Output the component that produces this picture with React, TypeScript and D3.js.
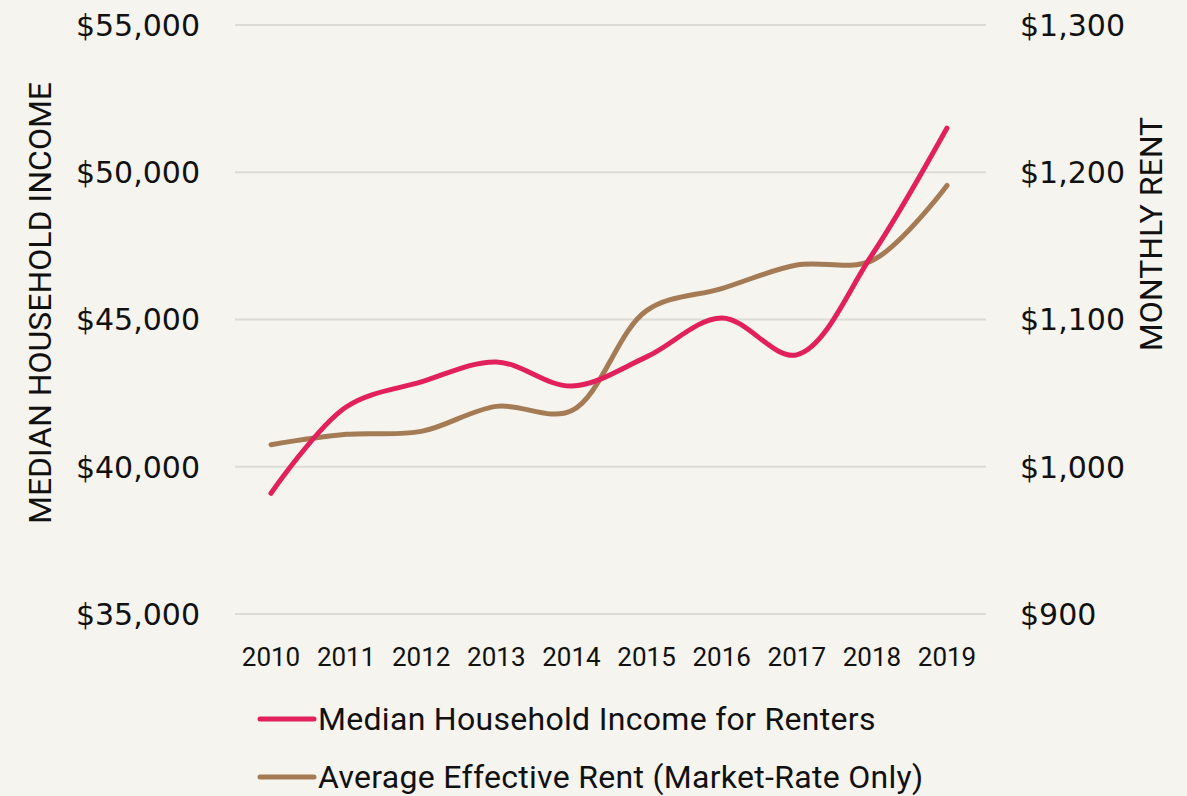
import React, { useEffect, useRef } from 'react';
import * as d3 from 'd3';

const years = ['2010', '2011', '2012', '2013', '2014', '2015', '2016', '2017', '2018', '2019'];
const incomeValues = [39100, 42030, 42880, 43560, 42740, 43730, 45050, 43800, 47190, 51500];
const rentValues = [1015, 1022, 1024, 1041, 1038, 1106, 1121, 1137, 1140, 1191];
const incomeTicks = [35000, 40000, 45000, 50000, 55000];
const rentTicks = [900, 1000, 1100, 1200, 1300];
const seriesNames = ['Median Household Income for Renters', 'Average Effective Rent (Market-Rate Only)'];

const W = 1187;
const H = 796;
const PINK = '#e2215c';
const BROWN = '#a57b55';

const App = () => {
  const svgRef = useRef<SVGSVGElement | null>(null);

  useEffect(() => {
    const svg = d3.select(svgRef.current);
    svg.selectAll('*').remove();

    svg.append('rect').attr('width', W).attr('height', H).attr('fill', '#f5f4ee');

    const x = d3.scalePoint().domain(years).range([271, 947]);
    const yL = d3.scaleLinear().domain([35000, 55000]).range([614, 25]);
    const yR = d3.scaleLinear().domain([900, 1300]).range([614, 25]);

    // gridlines
    svg.append('g')
      .selectAll('line')
      .data(incomeTicks)
      .join('line')
      .attr('x1', 235)
      .attr('x2', 986)
      .attr('y1', d => yL(d))
      .attr('y2', d => yL(d))
      .attr('stroke', '#dcdbd8')
      .attr('stroke-width', 2);

    const fmt = d3.format('$,');

    svg.append('g')
      .selectAll('text')
      .data(incomeTicks)
      .join('text')
      .attr('x', 200)
      .attr('y', d => yL(d))
      .attr('dy', '0.36em')
      .attr('text-anchor', 'end')
      .style('font-family', 'DejaVu Sans')
      .style('font-size', '30px')
      .attr('fill', '#111')
      .text(d => fmt(d));

    svg.append('g')
      .selectAll('text')
      .data(rentTicks)
      .join('text')
      .attr('x', 1020)
      .attr('y', d => yR(d))
      .attr('dy', '0.36em')
      .attr('text-anchor', 'start')
      .style('font-family', 'DejaVu Sans')
      .style('font-size', '30px')
      .attr('fill', '#111')
      .text(d => fmt(d));

    svg.append('g')
      .selectAll('text')
      .data(years)
      .join('text')
      .attr('x', d => x(d)!)
      .attr('y', 666)
      .attr('text-anchor', 'middle')
      .style('font-family', 'Roboto')
      .style('font-size', '26px')
      .attr('fill', '#111')
      .text(d => d);

    svg.append('text')
      .attr('transform', 'translate(51,303) rotate(-90)')
      .attr('text-anchor', 'middle')
      .style('font-family', 'Roboto')
      .style('font-size', '32px')
      .attr('fill', '#111')
      .text('MEDIAN HOUSEHOLD INCOME');

    svg.append('text')
      .attr('transform', 'translate(1162,234) rotate(-90)')
      .attr('text-anchor', 'middle')
      .style('font-family', 'Roboto')
      .style('font-size', '32px')
      .attr('fill', '#111')
      .text('MONTHLY RENT');

    const line = (ys: d3.ScaleLinear<number, number>) =>
      d3.line<number>()
        .x((_, i) => x(years[i])!)
        .y(d => ys(d))
        .curve(d3.curveCatmullRom.alpha(0.5));

    svg.append('path')
      .datum(rentValues)
      .attr('fill', 'none')
      .attr('stroke', BROWN)
      .attr('stroke-width', 5)
      .attr('stroke-linecap', 'round')
      .attr('d', line(yR));

    svg.append('path')
      .datum(incomeValues)
      .attr('fill', 'none')
      .attr('stroke', PINK)
      .attr('stroke-width', 5)
      .attr('stroke-linecap', 'round')
      .attr('d', line(yL));

    // legend
    const legend = svg.append('g');
    [PINK, BROWN].forEach((c, i) => {
      const ly = 719 + i * 58;
      legend.append('line')
        .attr('x1', 260).attr('x2', 314)
        .attr('y1', ly).attr('y2', ly)
        .attr('stroke', c)
        .attr('stroke-width', 5)
        .attr('stroke-linecap', 'round');
      legend.append('text')
        .attr('x', 318)
        .attr('y', ly)
        .attr('dy', '0.34em')
        .style('font-family', 'Roboto')
        .style('font-size', '32px')
        .style('letter-spacing', '0.3px')
        .attr('fill', '#111')
        .text(seriesNames[i]);
    });
  }, []);

  return (
    <svg
      ref={svgRef}
      width={W}
      height={H}
      style={{ position: 'absolute', left: 0, top: 0, display: 'block' }}
    />
  );
};

export default App;
